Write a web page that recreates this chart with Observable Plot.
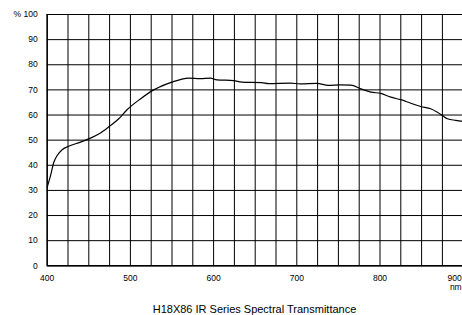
<!DOCTYPE html>
<html><head><meta charset="utf-8">
<script src="https://cdn.jsdelivr.net/npm/d3@7"></script>
<script src="https://cdn.jsdelivr.net/npm/@observablehq/plot@0.6"></script>
<style>
html,body{margin:0;padding:0;background:#fff;overflow:hidden;width:462px;height:315px;}
#chart{position:absolute;left:0;top:0;width:470px;}
#chart svg{max-width:none !important;width:470px !important;height:296px !important;}
#title{position:absolute;left:0;width:509px;top:303px;line-height:11px;text-align:center;font:11px "Liberation Sans",Arial,sans-serif;color:#000;white-space:nowrap;}
</style></head><body>
<div id="chart"></div>
<div id="title">H18X86 IR Series Spectral Transmittance</div>
<script>
const wavelength = [400,404,408,412,418,425,440,452,464,476,486,496,512,528,544,560,570,584,596,604,624,634,658,666,692,704,724,738,752,765,777,789,801,813,825,837,849,861,869,875,881,891,900];
const transmittance = [31.3,35.9,41.2,43.9,46.2,47.5,49.2,50.8,52.8,55.8,58.5,62.1,66.4,70.0,72.4,74.1,74.7,74.5,74.7,74.0,73.7,73.1,72.9,72.5,72.7,72.4,72.6,71.8,72.0,71.9,70.4,69.1,68.6,67.1,66.1,64.7,63.4,62.5,61.1,59.8,58.5,57.9,57.5];
const xTicks = [400,500,600,700,800];
const xLastTick = [900];
const yTicks = [0,10,20,30,40,50,60,70,80,90,100];
const xGrid = d3.range(400, 901, 25);
const yGrid = d3.range(0, 101, 10);

const data = wavelength.map((w,i)=>({w, t: transmittance[i]}));

const chart = Plot.plot({
  width: 470, height: 296,
  marginLeft: 46.7, marginRight: 7.3, marginTop: 14, marginBottom: 30.7,
  style: {fontFamily: '"Liberation Sans", Arial, sans-serif', fontSize: "8.5px", color: "#000", background: "#fff", maxWidth: "none"},
  x: {domain: [400, 900]},
  y: {domain: [0, 100]},
  marks: [
    Plot.ruleX(xGrid, {stroke: "#000", strokeWidth: 1}),
    Plot.ruleY(yGrid, {stroke: "#000", strokeWidth: 1}),
    Plot.ruleY([0], {stroke: "#000", strokeWidth: 1.6}),
    Plot.ruleX([400], {stroke: "#000", strokeWidth: 1.4}),
    Plot.axisX(xTicks, {tickSize: 0, tickPadding: 9.5, label: null, tickFormat: d => String(d)}),
    Plot.text(xLastTick, {x: d => d, y: 0, text: d => d + "\nnm", textAnchor: "end",
      lineAnchor: "top", dx: -1.5, dy: 9.5, fontSize: 8.5, fill: "#000"}),
    Plot.axisY(yTicks, {tickSize: 0, tickPadding: 9.5, label: null,
      tickFormat: d => d === 100 ? "% 100" : String(d)}),
    Plot.line(data, {x: "w", y: "t", stroke: "#000", strokeWidth: 1.2, curve: "monotone-x"})
  ]
});
document.getElementById("chart").appendChild(chart);
</script>
</body></html>
